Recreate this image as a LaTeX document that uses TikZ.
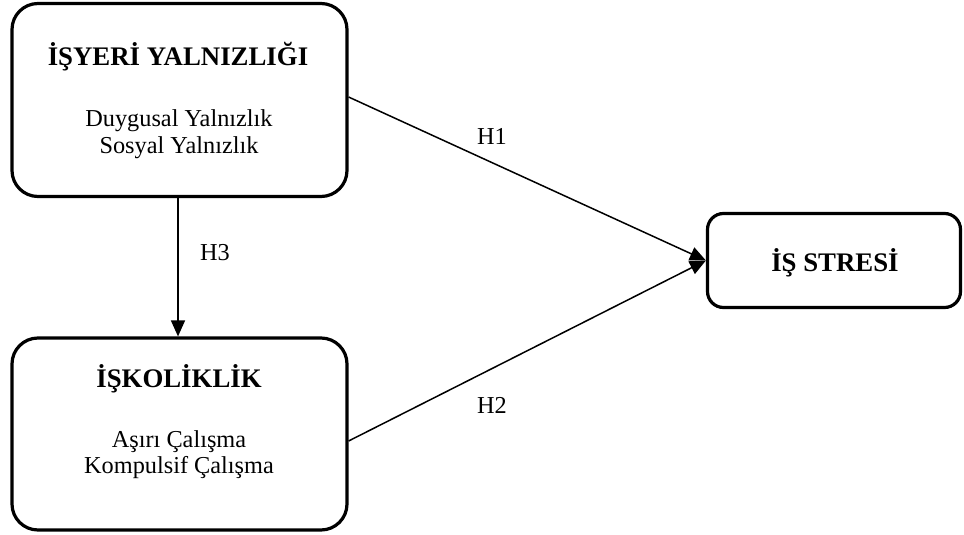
\documentclass[tikz,border=0pt]{standalone}
\usepackage{fontspec}
\setmainfont{Liberation Serif}
\usetikzlibrary{arrows.meta,calc}
\begin{document}
\begin{tikzpicture}[x=1pt,y=-1pt,
  box/.style={draw,line width=3.2pt,rounded corners=26pt,inner sep=0pt},
  title/.style={font=\fontsize{26.8}{30}\selectfont\bfseries,anchor=base,inner sep=0pt},
  item/.style={font=\fontsize{24.3}{27}\selectfont,anchor=base,inner sep=0pt},
  lbl/.style={font=\fontsize{24.3}{27}\selectfont,inner sep=0pt},
  conn/.style={line width=1.5pt,-{Triangle[length=16pt,width=14pt]}}]
\useasboundingbox (0,0) rectangle (964,535);
\node[box,minimum width=335pt,minimum height=193pt] (b1) at (179.5,100) {};
\node[box,minimum width=335pt,minimum height=192pt] (b2) at (179.5,434) {};
\node[box,rounded corners=16pt,minimum width=253pt,minimum height=94pt] (b3) at (834,260.5) {};
\node[title] (t1) at (178,66) {İŞYERİ YALNIZLIĞI};
\node[item] (i1a) at (179,126) {Duygusal Yalnızlık};
\node[item] (i1b) at (179,153) {Sosyal Yalnızlık};
\node[title] (t2) at (179,387) {İŞKOLİKLİK};
\node[item] (i2a) at (179,447) {Aşırı Çalışma};
\node[item] (i2b) at (179,473) {Kompulsif Çalışma};
\node[title] (t3) at (835,271) {İŞ STRESİ};
\draw[conn] ([xshift=-1.5pt]b1.south) -- ([xshift=-1.5pt]b2.north);
\draw[conn] ([yshift=3pt]b1.east) -- (b3.west);
\draw[conn] ([yshift=-7pt]b2.east) -- (b3.west);
\node[lbl] (h1) at (492,136) {H1};
\node[lbl] (h2) at (492,405) {H2};
\node[lbl] (h3) at (215,253) {H3};
\end{tikzpicture}
\end{document}
